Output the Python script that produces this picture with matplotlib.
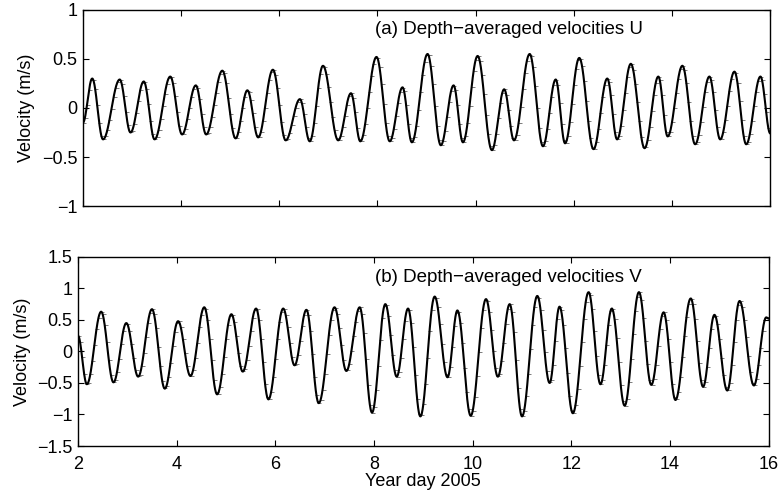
import numpy as np
import matplotlib
matplotlib.use("Agg")
import matplotlib.pyplot as plt

plt.rcParams['font.family'] = ['Liberation Sans', 'DejaVu Sans']

# extrema of the depth-averaged U velocity (year day, m/s)
u_days = [2.00, 2.19, 2.41, 2.75, 2.97, 3.24, 3.46, 3.78, 4.02, 4.30, 4.51,
          4.84, 5.11, 5.35, 5.57, 5.87, 6.13, 6.42, 6.62, 6.89, 7.20, 7.46,
          7.65, 7.98, 8.25, 8.51, 8.70, 9.02, 9.29, 9.55, 9.74, 10.04, 10.33,
          10.58, 10.78, 11.10, 11.37, 11.63, 11.82, 12.11, 12.40, 12.68, 12.88,
          13.16, 13.44, 13.72, 13.91, 14.21, 14.47, 14.76, 14.98, 15.27, 15.51,
          15.80, 16.00]
u_vals = [-0.15, 0.30, -0.32, 0.29, -0.25, 0.27, -0.32, 0.32, -0.27, 0.23, -0.27,
          0.38, -0.31, 0.18, -0.30, 0.39, -0.33, 0.09, -0.34, 0.43, -0.33, 0.15,
          -0.34, 0.52, -0.34, 0.21, -0.35, 0.55, -0.38, 0.23, -0.35, 0.53, -0.43,
          0.19, -0.33, 0.55, -0.39, 0.29, -0.36, 0.51, -0.42, 0.30, -0.32,
          0.45, -0.41, 0.32, -0.29, 0.43, -0.37, 0.32, -0.32, 0.37, -0.37,
          0.32, -0.26]

# extrema of the depth-averaged V velocity (year day, m/s)
v_days = [2.00, 2.18, 2.47, 2.72, 2.98, 3.22, 3.50, 3.76, 4.03, 4.28, 4.56,
          4.82, 5.11, 5.34, 5.61, 5.86, 6.16, 6.39, 6.63, 6.88, 7.20, 7.44,
          7.71, 7.96, 8.23, 8.46, 8.69, 8.94, 9.23, 9.49, 9.69, 9.96, 10.27,
          10.51, 10.75, 11.00, 11.31, 11.56, 11.76, 12.03, 12.35, 12.59, 12.82,
          13.08, 13.37, 13.62, 13.87, 14.11, 14.42, 14.67, 14.90, 15.16, 15.41,
          15.70, 15.95, 16.00]
v_vals = [0.25, -0.52, 0.63, -0.49, 0.45, -0.40, 0.67, -0.59, 0.48, -0.39, 0.70,
          -0.68, 0.59, -0.32, 0.68, -0.76, 0.68, -0.22, 0.66, -0.82, 0.70, -0.31,
          0.70, -0.97, 0.75, -0.40, 0.68, -1.03, 0.87, -0.41, 0.65, -1.02, 0.83,
          -0.40, 0.75, -1.03, 0.88, -0.50, 0.71, -0.98, 0.94, -0.52, 0.68,
          -0.86, 0.94, -0.53, 0.62, -0.77, 0.84, -0.56, 0.58, -0.62, 0.80,
          -0.54, 0.54, 0.52]

OBS_LAG = 0.02  # observations sit slightly behind the model


def tidal_curve(days, vals, step=0.005):
    # smooth half-cosine swing between successive extrema
    ts, ys = [], []
    for i in range(len(days) - 1):
        t0, t1 = days[i], days[i + 1]
        s = np.arange(0, 1, step / (t1 - t0))
        ts.append(t0 + s * (t1 - t0))
        ys.append(vals[i] + (vals[i + 1] - vals[i]) * (1 - np.cos(np.pi * s)) / 2)
    ts.append([days[-1]])
    ys.append([vals[-1]])
    return np.concatenate(ts), np.concatenate(ys)


def style_axes(ax):
    ax.tick_params(direction='in', top=True, right=True, length=4,
                   width=0.8, labelsize=13, pad=4)
    ax.tick_params(axis='x', pad=7)
    for sp in ax.spines.values():
        sp.set_linewidth(1.0)


fig = plt.figure(figsize=(7.82, 4.93), dpi=100)
ax1 = fig.add_axes([0.106, 0.582, 0.879, 0.398])
ax2 = fig.add_axes([0.0997, 0.0953, 0.8833, 0.3837])

for ax, days, vals in [(ax1, u_days, u_vals), (ax2, v_days, v_vals)]:
    t, y = tidal_curve(days, vals)
    obs = np.arange(2.0, 16.0, 1 / 24)
    ax.plot(obs + OBS_LAG, np.interp(obs, t, y), linestyle='none', marker='_',
            markersize=2.5, markeredgewidth=0.6, color='0.4', zorder=1)
    ax.plot(t, y, color='black', linewidth=1.5, zorder=2)
    ax.set_xlim(2, 16)
    ax.set_xticks(np.arange(2, 17, 2))
    style_axes(ax)

ax1.set_ylim(-1, 1)
ax1.set_yticks([-1, -0.5, 0, 0.5, 1])
ax1.set_yticklabels(['\u22121', '\u22120.5', '0', '0.5', '1'])
ax1.set_xticklabels([])
ax1.set_ylabel('Velocity (m/s)', fontsize=13, labelpad=5)
ax1.text(7.95, 0.80, '(a) Depth\u2212averaged velocities U', fontsize=13.5,
         va='center', ha='left')

ax2.set_ylim(-1.5, 1.5)
ax2.set_yticks([-1.5, -1, -0.5, 0, 0.5, 1, 1.5])
ax2.set_yticklabels(['\u22121.5', '\u22121', '\u22120.5', '0', '0.5', '1', '1.5'])
ax2.set_xlabel('Year day 2005', fontsize=13, labelpad=0)
ax2.set_ylabel('Velocity (m/s)', fontsize=13, labelpad=4)
ax2.text(8.02, 1.18, '(b) Depth\u2212averaged velocities V', fontsize=13.5,
         va='center', ha='left')

fig.savefig('out.png', dpi=100)
